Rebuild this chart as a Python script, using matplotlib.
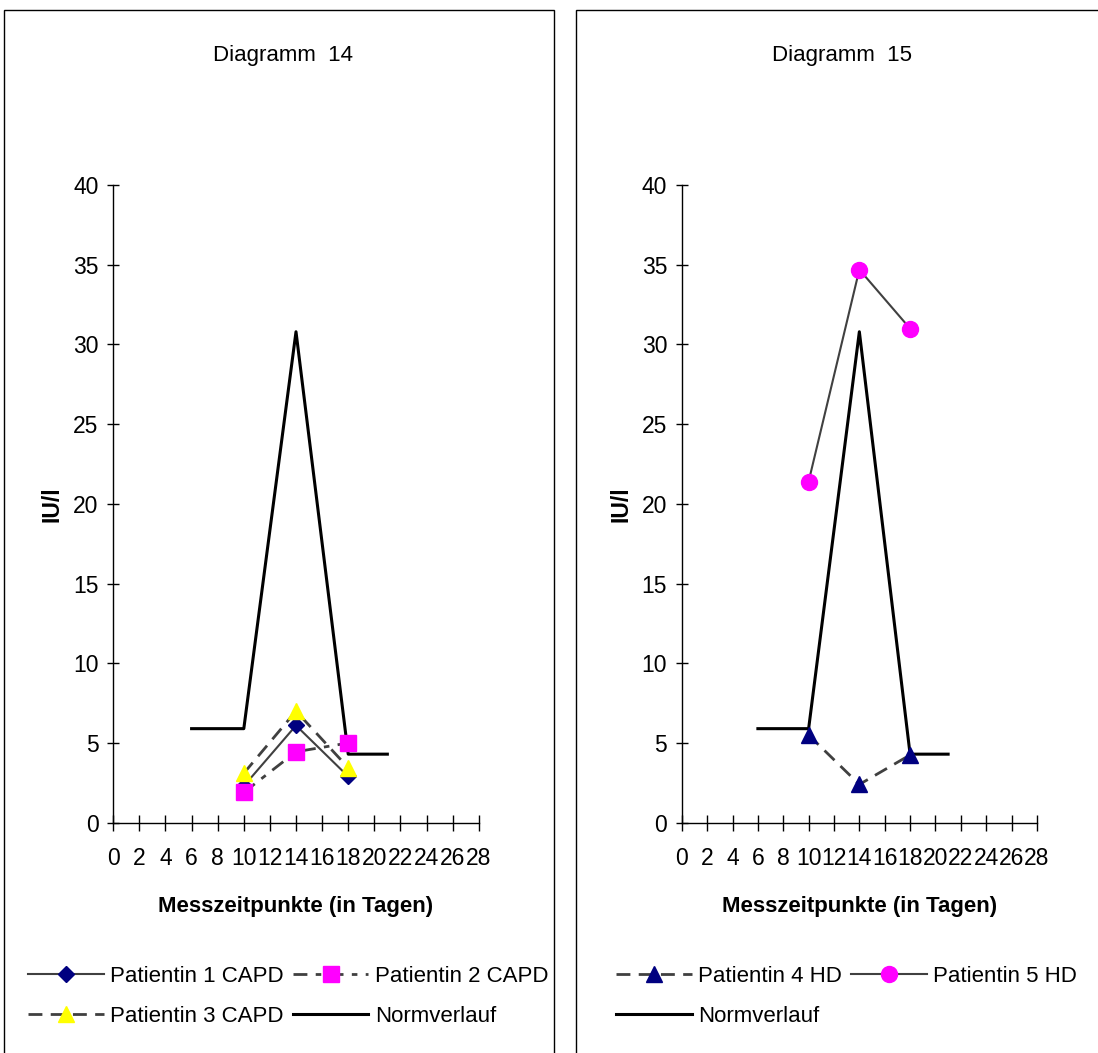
import matplotlib
matplotlib.use("Agg")
import matplotlib.pyplot as plt
from matplotlib.patches import Rectangle

plt.rcParams["font.family"] = ["Liberation Sans", "DejaVu Sans"]

# Messzeitpunkte der Patientinnen (Tage) und Normverlauf
days = [10, 14, 18]
norm_days = [6, 10, 14, 18, 21]
norm_values = [5.9, 5.9, 30.8, 4.3, 4.3]

# IU/l
p1_capd = [2.3, 6.1, 2.9]
p2_capd = [1.9, 4.45, 5.0]
p3_capd = [3.1, 7.0, 3.45]
p4_hd = [5.5, 2.4, 4.25]
p5_hd = [21.4, 34.7, 31.0]

x_ticks = list(range(0, 29, 2))
y_ticks = list(range(0, 41, 5))

W, H = 1098, 1053
GRAY = "#404040"
NAVY = "#000080"
MAGENTA = "#ff00ff"
YELLOW = "#ffff00"


def fx(px):
    return px / W


def fy(py):
    return 1 - py / H


def setup_axes(ax, x0, x1):
    ax.set_xlim(0, 28)
    ax.set_ylim(0, 40)
    ax.set_xticks(x_ticks)
    ax.set_yticks(y_ticks)
    ax.spines["top"].set_visible(False)
    ax.spines["right"].set_visible(False)
    for s in ("left", "bottom"):
        ax.spines[s].set_linewidth(1.0)
    ax.tick_params(axis="x", direction="inout", length=11, width=1.0,
                   pad=12, labelsize=16.5)
    ax.tick_params(axis="y", direction="inout", length=9, width=1.0,
                   pad=6, labelsize=16.5)
    ax.set_xlabel("Messzeitpunkte (in Tagen)", fontsize=16, fontweight="bold")
    ax.xaxis.set_label_coords(0.5, -(907 - 823) / 637.6)
    ax.xaxis.label.set_verticalalignment("center")
    ax.set_ylabel("IU/l", fontsize=16.5, fontweight="bold")
    ax.yaxis.set_label_coords(-61 / (x1 - x0), 0.5)
    ax.yaxis.label.set_verticalalignment("center")


def add_legend(ax, handles, labels, x_px):
    ax.legend(handles, labels, ncol=2, loc="upper left",
              bbox_to_anchor=(fx(x_px), fy(966)),
              bbox_transform=fig.transFigure, frameon=False, fontsize=16,
              borderpad=0, borderaxespad=0, handlelength=3.4,
              handletextpad=0.3, columnspacing=0.4, labelspacing=0.85,
              numpoints=1)


fig = plt.figure(figsize=(W / 100, H / 100), dpi=100)

# Rahmen der beiden Diagramme
fig.add_artist(Rectangle((fx(4), -0.01), fx(550), fy(10) + 0.01,
                         transform=fig.transFigure, fill=False,
                         edgecolor="black", linewidth=1.0))
fig.add_artist(Rectangle((fx(576), -0.01), fx(600), fy(10) + 0.01,
                         transform=fig.transFigure, fill=False,
                         edgecolor="black", linewidth=1.0))

fig.text(fx(283), fy(56), "Diagramm  14", ha="center", va="center", fontsize=16)
fig.text(fx(842), fy(56), "Diagramm  15", ha="center", va="center", fontsize=16)

ax_bottom = fy(822.7)
ax_height = 637.6 / H

# Diagramm 14: CAPD
lx0, lx1 = 113.3, 478.7
ax1 = fig.add_axes([fx(lx0), ax_bottom, fx(lx1 - lx0), ax_height])
setup_axes(ax1, lx0, lx1)

n1, = ax1.plot(norm_days, norm_values, color="black", linewidth=2.2,
               label="Normverlauf", zorder=2)
h1, = ax1.plot(days, p1_capd, color=GRAY, linewidth=1.5, marker="D",
               markersize=8, markerfacecolor=NAVY, markeredgecolor=NAVY,
               label="Patientin 1 CAPD", zorder=3)
h3, = ax1.plot(days, p3_capd, color=GRAY, linewidth=2.0, linestyle=(0, (5, 3)),
               marker="^", markersize=11.5, markerfacecolor=YELLOW,
               markeredgecolor=YELLOW, label="Patientin 3 CAPD", zorder=4)
h2, = ax1.plot(days, p2_capd, color=GRAY, linewidth=2.0,
               linestyle=(0, (5, 3, 2, 3)), marker="s", markersize=11.5,
               markerfacecolor=MAGENTA, markeredgecolor=MAGENTA,
               label="Patientin 2 CAPD", zorder=5)

add_legend(ax1, [h1, h3, h2, n1],
           ["Patientin 1 CAPD", "Patientin 3 CAPD", "Patientin 2 CAPD", "Normverlauf"],
           28)

# Diagramm 15: HD
rx0, rx1 = 681.8, 1036.9
ax2 = fig.add_axes([fx(rx0), ax_bottom, fx(rx1 - rx0), ax_height])
setup_axes(ax2, rx0, rx1)

n2, = ax2.plot(norm_days, norm_values, color="black", linewidth=2.2,
               label="Normverlauf", zorder=2)
h4, = ax2.plot(days, p4_hd, color=GRAY, linewidth=2.0, linestyle=(0, (5, 3)),
               marker="^", markersize=12, markerfacecolor=NAVY,
               markeredgecolor=NAVY, label="Patientin 4 HD", zorder=3)
h5, = ax2.plot(days, p5_hd, color=GRAY, linewidth=1.5, marker="o",
               markersize=11.5, markerfacecolor=MAGENTA,
               markeredgecolor=MAGENTA, label="Patientin 5 HD", zorder=4)

add_legend(ax2, [h4, n2, h5], ["Patientin 4 HD", "Normverlauf", "Patientin 5 HD"],
           616)

fig.savefig("out.png", dpi=100)
